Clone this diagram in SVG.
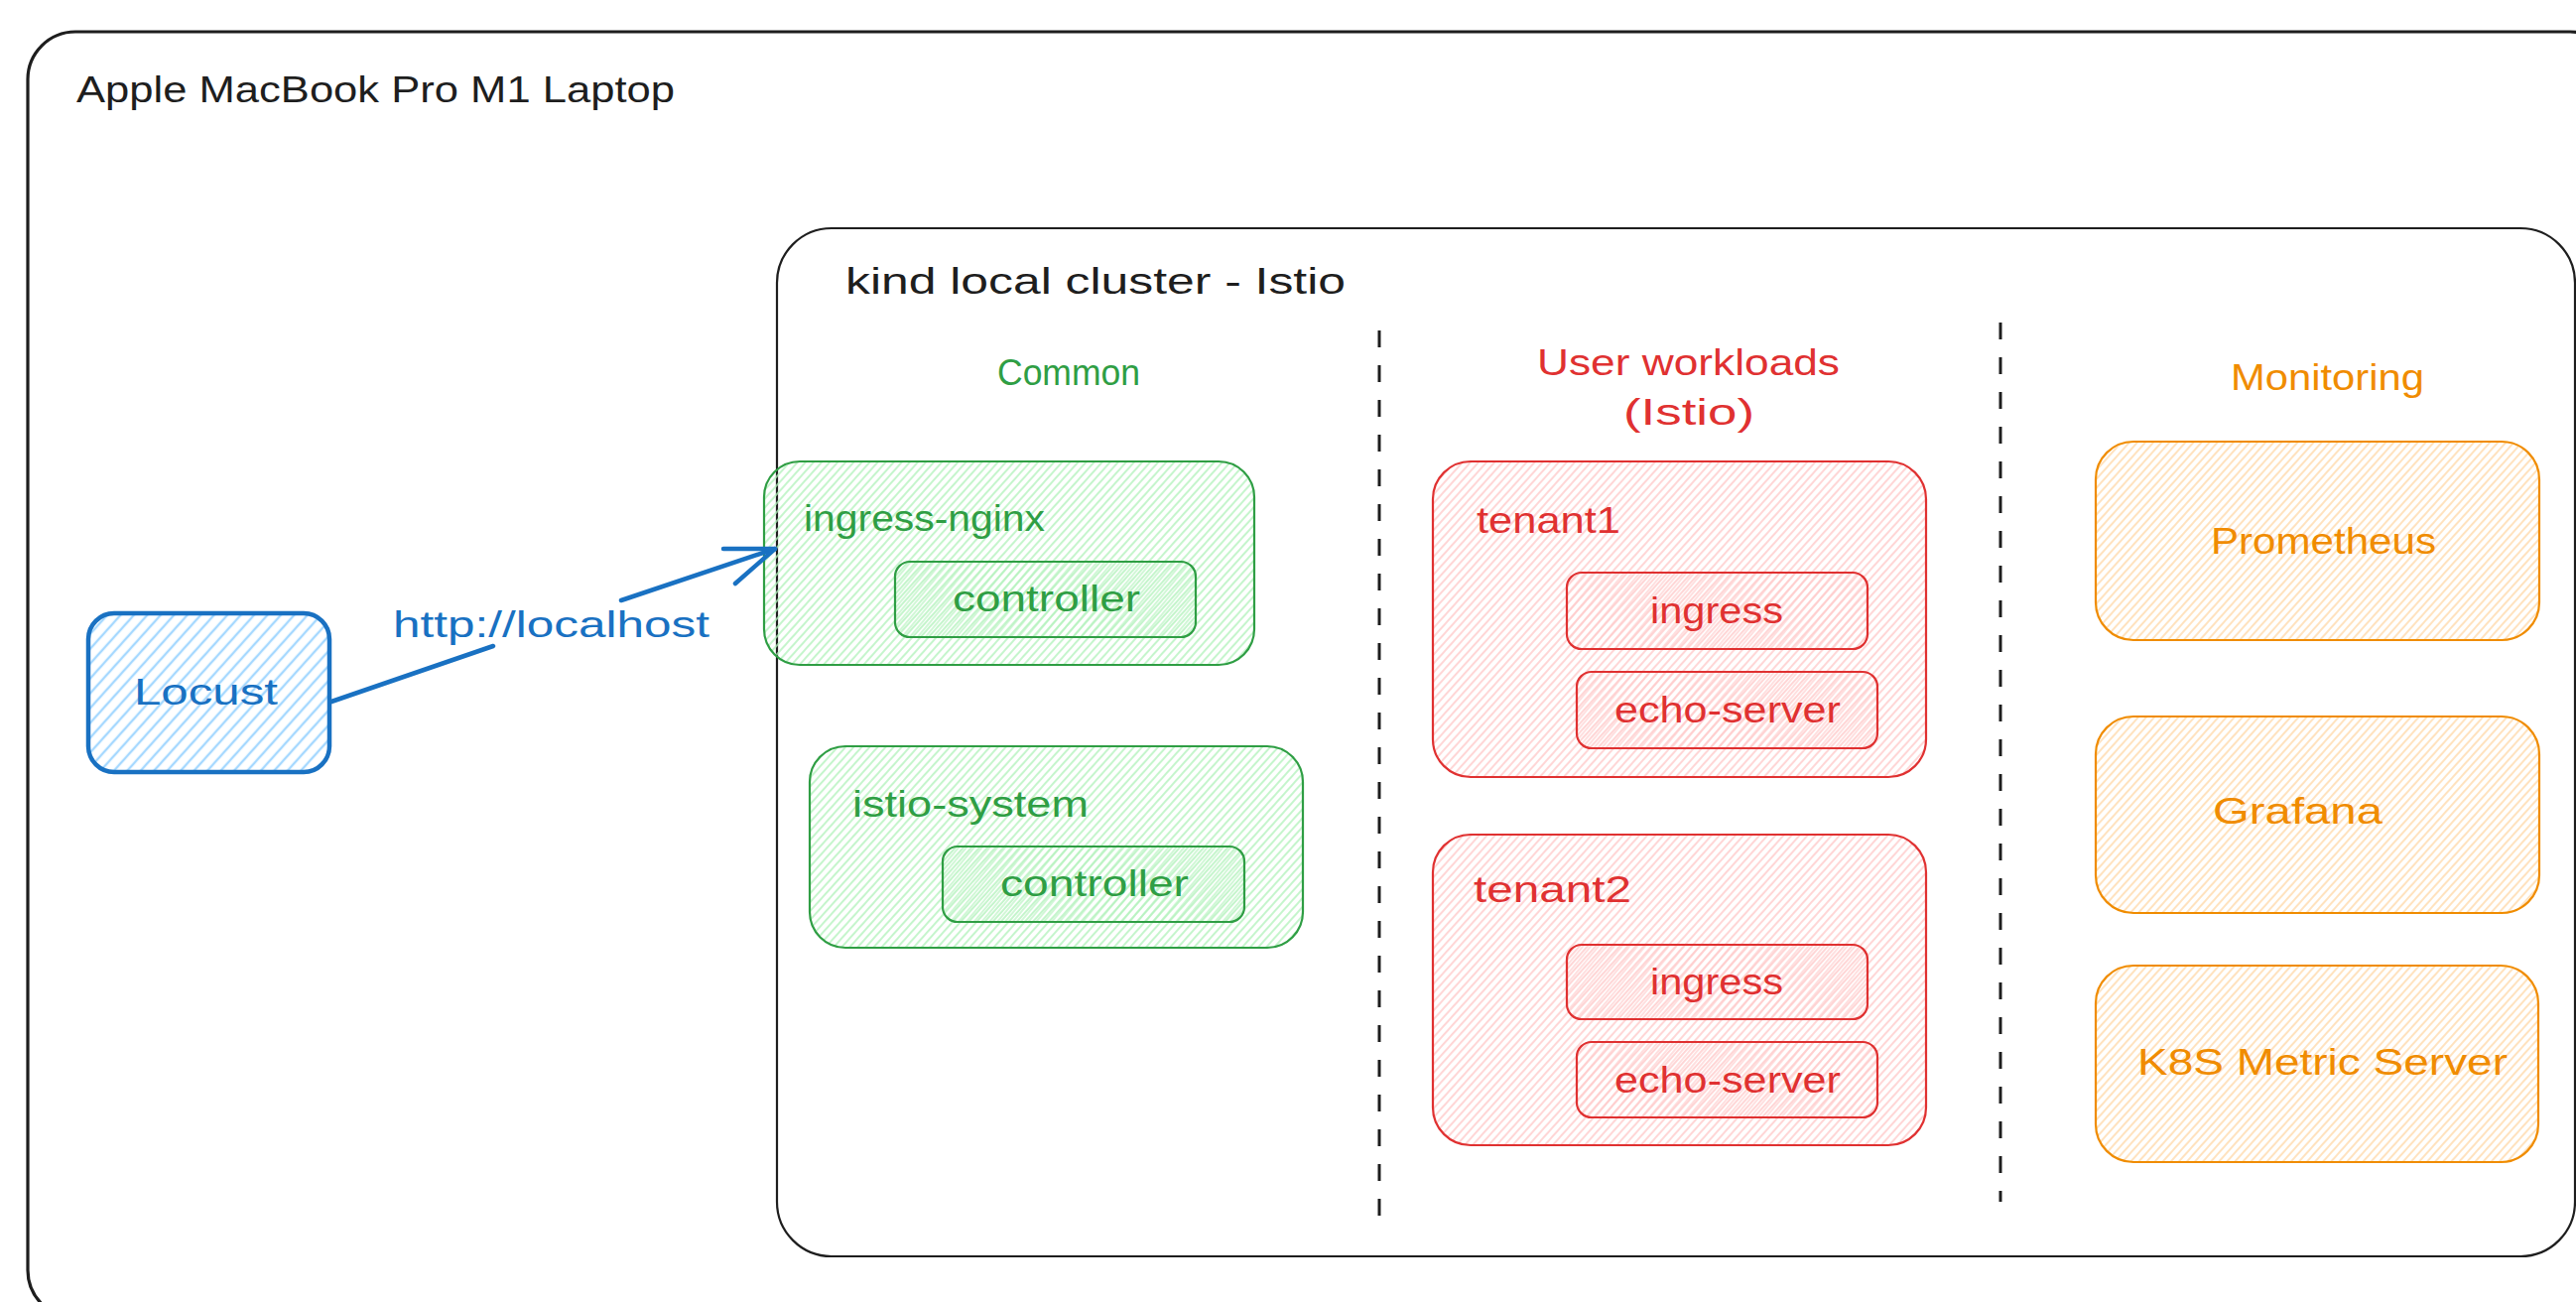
<svg xmlns="http://www.w3.org/2000/svg" width="2596" height="1312" viewBox="0 0 2596 1312">
<style>
  text { font-family: "Liberation Sans", "DejaVu Sans", sans-serif; font-size: 36px; }
  .dark { fill: #1e1e1e; }
  .blue { fill: #1971c2; }
  .green { fill: #2f9e44; }
  .red { fill: #e03131; }
  .orange { fill: #f08c00; }
  .frame { fill: none; stroke: #1e1e1e; }
  .gbox { stroke: #2f9e44; stroke-width: 2.2; }
  .rbox { stroke: #e03131; stroke-width: 2.2; }
  .obox { stroke: #f08c00; stroke-width: 2.2; }
  .divider { stroke: #1e1e1e; stroke-width: 3; stroke-dasharray: 17 18; fill: none; }
  .conn { stroke: #1971c2; stroke-width: 4.5; fill: none; stroke-linecap: round; stroke-linejoin: round; }
</style>
<defs>
  <pattern id="hBlue" patternUnits="userSpaceOnUse" width="10" height="10" patternTransform="rotate(42)">
    <line x1="5" y1="0" x2="5" y2="10" stroke="#a5d8ff" stroke-width="2.4"/>
  </pattern>
  <pattern id="hGreen" patternUnits="userSpaceOnUse" width="6" height="6" patternTransform="rotate(42)">
    <line x1="3" y1="0" x2="3" y2="6" stroke="#b2f2bb" stroke-width="1.5"/>
  </pattern>
  <pattern id="hGreen2" patternUnits="userSpaceOnUse" width="6" height="6" patternTransform="rotate(40) translate(2 0)">
    <line x1="3" y1="0" x2="3" y2="6" stroke="#b2f2bb" stroke-width="1.2"/>
  </pattern>
  <pattern id="hRed" patternUnits="userSpaceOnUse" width="6" height="6" patternTransform="rotate(42)">
    <line x1="3" y1="0" x2="3" y2="6" stroke="#ffc9c9" stroke-width="1.5"/>
  </pattern>
  <pattern id="hRed2" patternUnits="userSpaceOnUse" width="6" height="6" patternTransform="rotate(40) translate(2 0)">
    <line x1="3" y1="0" x2="3" y2="6" stroke="#ffc9c9" stroke-width="1.2"/>
  </pattern>
  <pattern id="hOrange" patternUnits="userSpaceOnUse" width="6" height="6" patternTransform="rotate(42)">
    <line x1="3" y1="0" x2="3" y2="6" stroke="#ffd8a8" stroke-width="1.5"/>
  </pattern>
</defs>
<rect x="0" y="0" width="2596" height="1312" fill="#ffffff"/>

<g id="laptop">
  <rect class="frame" x="28" y="32" width="2610" height="1296" rx="48" stroke-width="3.2"/>
  <text class="dark" x="77" y="103" textLength="603" lengthAdjust="spacingAndGlyphs">Apple MacBook Pro M1 Laptop</text>
</g>

<g id="kind-cluster">
  <rect class="frame" x="783" y="230" width="1812" height="1036" rx="55" stroke-width="2.2"/>
  <text class="dark" x="852" y="296" textLength="504" lengthAdjust="spacingAndGlyphs">kind local cluster - Istio</text>
</g>

<g id="dividers">
  <line class="divider" x1="1390" y1="333" x2="1390" y2="1240"/>
  <line class="divider" x1="2016" y1="325" x2="2016" y2="1211"/>
</g>

<g id="col-common">
  <text class="green" x="1005" y="388" textLength="144" lengthAdjust="spacingAndGlyphs">Common</text>
</g>
<g id="col-user">
  <text class="red" x="1549" y="378" textLength="305" lengthAdjust="spacingAndGlyphs">User workloads</text>
  <text class="red" x="1636" y="428" textLength="132" lengthAdjust="spacingAndGlyphs">(Istio)</text>
</g>
<g id="col-monitoring">
  <text class="orange" x="2248" y="393" textLength="195" lengthAdjust="spacingAndGlyphs">Monitoring</text>
</g>

<g id="ingress-nginx">
  <rect class="gbox" x="770" y="465" width="494" height="205" rx="36" fill="url(#hGreen)"/>
  <text class="green" x="810" y="535" textLength="243" lengthAdjust="spacingAndGlyphs">ingress-nginx</text>
</g>
<g id="ingress-nginx-controller">
  <rect class="gbox" x="902" y="566" width="303" height="76" rx="15" fill="url(#hGreen2)"/>
  <text class="green" x="960" y="616" textLength="189" lengthAdjust="spacingAndGlyphs">controller</text>
</g>

<g id="istio-system">
  <rect class="gbox" x="816" y="752" width="497" height="203" rx="36" fill="url(#hGreen)"/>
  <text class="green" x="859" y="823" textLength="238" lengthAdjust="spacingAndGlyphs">istio-system</text>
</g>
<g id="istio-system-controller">
  <rect class="gbox" x="950" y="853" width="304" height="76" rx="15" fill="url(#hGreen2)"/>
  <text class="green" x="1008" y="903" textLength="190" lengthAdjust="spacingAndGlyphs">controller</text>
</g>

<g id="tenant1">
  <rect class="rbox" x="1444" y="465" width="497" height="318" rx="38" fill="url(#hRed)"/>
  <text class="red" x="1488" y="537" textLength="145" lengthAdjust="spacingAndGlyphs">tenant1</text>
</g>
<g id="tenant1-ingress">
  <rect class="rbox" x="1579" y="577" width="303" height="77" rx="15" fill="url(#hRed2)"/>
  <text class="red" x="1663" y="628" textLength="134" lengthAdjust="spacingAndGlyphs">ingress</text>
</g>
<g id="tenant1-echo-server">
  <rect class="rbox" x="1589" y="677" width="303" height="77" rx="15" fill="url(#hRed2)"/>
  <text class="red" x="1627" y="728" textLength="228" lengthAdjust="spacingAndGlyphs">echo-server</text>
</g>

<g id="tenant2">
  <rect class="rbox" x="1444" y="841" width="497" height="313" rx="38" fill="url(#hRed)"/>
  <text class="red" x="1485" y="909" textLength="159" lengthAdjust="spacingAndGlyphs">tenant2</text>
</g>
<g id="tenant2-ingress">
  <rect class="rbox" x="1579" y="952" width="303" height="75" rx="15" fill="url(#hRed2)"/>
  <text class="red" x="1663" y="1002" textLength="134" lengthAdjust="spacingAndGlyphs">ingress</text>
</g>
<g id="tenant2-echo-server">
  <rect class="rbox" x="1589" y="1050" width="303" height="76" rx="15" fill="url(#hRed2)"/>
  <text class="red" x="1627" y="1101" textLength="228" lengthAdjust="spacingAndGlyphs">echo-server</text>
</g>

<g id="prometheus">
  <rect class="obox" x="2112" y="445" width="447" height="200" rx="38" fill="url(#hOrange)"/>
  <text class="orange" x="2228" y="558" textLength="227" lengthAdjust="spacingAndGlyphs">Prometheus</text>
</g>
<g id="grafana">
  <rect class="obox" x="2112" y="722" width="447" height="198" rx="38" fill="url(#hOrange)"/>
  <text class="orange" x="2230" y="830" textLength="171" lengthAdjust="spacingAndGlyphs">Grafana</text>
</g>
<g id="k8s-metric-server">
  <rect class="obox" x="2112" y="973" width="446" height="198" rx="38" fill="url(#hOrange)"/>
  <text class="orange" x="2154" y="1083" textLength="373" lengthAdjust="spacingAndGlyphs">K8S Metric Server</text>
</g>

<g id="locust">
  <rect x="89" y="618" width="243" height="160" rx="26" fill="url(#hBlue)" stroke="#1971c2" stroke-width="4.5"/>
  <text class="blue" x="135" y="710" textLength="145" lengthAdjust="spacingAndGlyphs">Locust</text>
</g>

<g id="connectors">
  <path class="conn" d="M334,707 L497,651 M626,605 L781,553"/>
  <path class="conn" d="M729,553 L781,553 L741,588"/>
  <text class="blue" x="396" y="642" textLength="319" lengthAdjust="spacingAndGlyphs">http://localhost</text>
</g>
</svg>
